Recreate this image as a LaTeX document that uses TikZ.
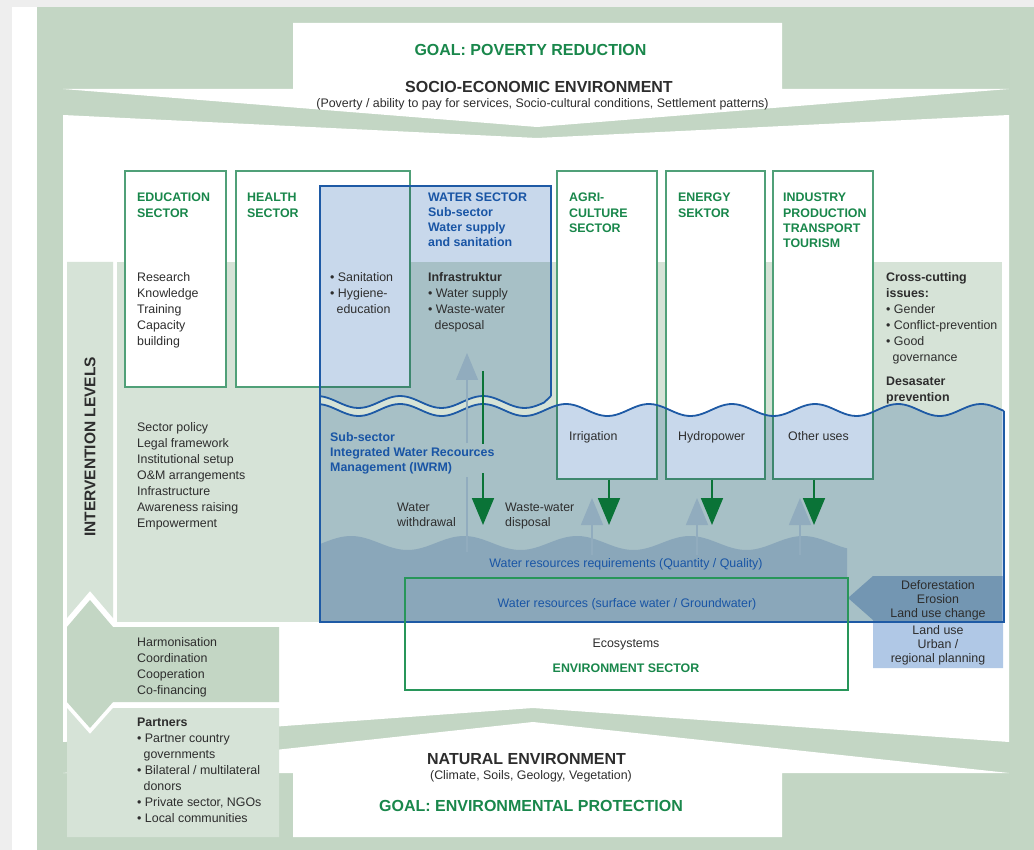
\documentclass[tikz,border=0pt]{standalone}
\usepackage{fontspec}
\setmainfont{Liberation Sans}
\usetikzlibrary{arrows.meta}

\definecolor{pagegray}{RGB}{238,238,238}
\definecolor{framegreen}{RGB}{195,214,196}
\definecolor{lightgreen}{RGB}{214,227,215}
\definecolor{lightblue}{RGB}{200,216,235}
\definecolor{deepblue}{RGB}{212,223,240}
\definecolor{landblue}{RGB}{176,200,230}
\definecolor{waterblue}{RGB}{30,90,165}
\definecolor{boxgreen}{RGB}{80,160,120}
\definecolor{envgreen}{RGB}{40,150,90}
\definecolor{textgreen}{RGB}{25,135,75}
\definecolor{textblue}{RGB}{25,85,165}
\definecolor{darktext}{RGB}{45,45,45}
\definecolor{arrowgreen}{RGB}{10,115,55}
\definecolor{arrowgray}{RGB}{145,172,190}

\begin{document}
\begin{tikzpicture}[x=1pt,y=-1pt,
   every node/.style={inner sep=0pt, text=darktext, font=\fontsize{12.4}{16}\selectfont},
   txt/.style={anchor=north west, align=left},
   sectorhead/.style={anchor=north west, align=left, text=textgreen, font=\bfseries\fontsize{12.4}{15.3}\selectfont},
   waterhead/.style={sectorhead, text=textblue, font=\bfseries\fontsize{12.4}{15}\selectfont},
   title/.style={font=\bfseries\fontsize{16}{19}\selectfont},
   sectorbox/.style={draw=boxgreen, line width=1.2pt, fill=white},
   waterline/.style={draw=waterblue, line width=1.8pt},
   supplyflow/.style={draw=arrowgreen, line width=1.8pt, -{Triangle[width=22pt,length=27pt]}},
   useflow/.style={draw=arrowgray, line width=1.6pt, -{Triangle[width=22pt,length=27pt]}}]

   \useasboundingbox (0,0) rectangle (1034,850);
   \fill[pagegray] (0,0) rectangle (1034,850);
   \fill[white] (12,7) rectangle (1034,850);
   \fill[framegreen] (37,7) rectangle (1034,850);

   % the three white layers
   \fill[white] (293,23) -- (782,23) -- (782,89) -- (1009,89) -- (537,127) -- (63,89) -- (293,89) -- cycle;
   \fill[white] (63,115) -- (537,138) -- (1009,115) -- (1009,742) -- (533,708) -- (63,742) -- cycle;
   \fill[white] (293,837) -- (782,837) -- (782,773) -- (1009,773) -- (533,722) -- (63,773) -- (293,773) -- cycle;

   % intervention levels
   \fill[lightgreen] (67,262) -- (113,262) -- (113,618) -- (90,591) -- (67,618) -- cycle;
   \fill[lightgreen] (117,262) rectangle (1002,622);
   \fill[framegreen] (67,627) -- (90,600) -- (113,627) -- (279,627) -- (279,702) -- (113,702) -- (90,728) -- (67,702) -- cycle;
   \fill[lightgreen] (67,708) -- (90,734) -- (113,708) -- (279,708) -- (279,837) -- (67,837) -- cycle;

   \node[sectorbox, minimum width=101, minimum height=216] (edu) at (175.5,279) {};
   \node[sectorbox, minimum width=174, minimum height=216] (health) at (323,279) {};
   \node[sectorbox, minimum width=100, minimum height=308] (agri) at (607,325) {};
   \node[sectorbox, minimum width=99, minimum height=308] (energy) at (715.5,325) {};
   \node[sectorbox, minimum width=100, minimum height=308] (industry) at (823,325) {};

   \begin{scope}[blend mode=multiply]
   \fill[lightblue] (320,186) -- (551,186) -- (551,396) -- plot[domain=544:320, samples=60] (\x,{402-6*cos((\x-400)/83*360)}) -- cycle;
   \fill[lightblue] plot[domain=320:1004, samples=200] (\x,{410-6*cos((\x-400)/83*360)}) -- (1004,622) -- (320,622) -- cycle;
   \fill[deepblue] plot[domain=320:847, samples=150] (\x,{543-7*cos((\x-464)/113*360)}) -- (847,622) -- (320,622) -- cycle;
   \fill[landblue] (848,598) -- (873,576) -- (1003,576) -- (1003,668) -- (873,668) -- (873,620) -- cycle;
   \end{scope}

   \draw[waterline] (551,396) -- (551,186) -- (320,186) -- (320,622) -- (1004,622) -- (1004,411);
   \draw[waterline] (551,396) -- plot[domain=544:320, samples=60] (\x,{402-6*cos((\x-400)/83*360)});
   \draw[waterline] plot[domain=320:1004, samples=200] (\x,{410-6*cos((\x-400)/83*360)});

   \node[draw=envgreen, line width=1.4pt, minimum width=443, minimum height=112] (env) at (626.5,634) {};

   % flows
   \foreach \bx/\ax/\gx in {agri/609/592, energy/712/697, industry/814/800} {
      \coordinate (tip-\bx) at (\ax,525);
      \draw[useflow] (\gx,555) -- (\gx,498);
      \draw[supplyflow] (tip-\bx |- \bx.south) -- (tip-\bx);
   }
   \draw[draw=arrowgray, line width=1.6pt] (467,552) -- (467,477);
   \draw[useflow] (467,443) -- (467,353);
   \draw[draw=arrowgreen, line width=1.8pt] (483,371) -- (483,444);
   \draw[supplyflow] (483,473) -- (483,525);

   % titles
   \node[title, text=textgreen] (goalpov) at (530.5,50) {GOAL: POVERTY REDUCTION};
   \node[title] (socio) at (539,87) {SOCIO-ECONOMIC ENVIRONMENT};
   \node (sociosub) at (542.5,104.5) {(Poverty / ability to pay for services, Socio-cultural conditions, Settlement patterns)};
   \node[title] (natural) at (526.5,759) {NATURAL ENVIRONMENT};
   \node (naturalsub) at (531,776.5) {(Climate, Soils, Geology, Vegetation)};
   \node[title, text=textgreen] (goalenv) at (531,806) {GOAL: ENVIRONMENTAL PROTECTION};
   \node[rotate=90, font=\bfseries\fontsize{15.5}{18}\selectfont] (levels) at (90,447) {INTERVENTION LEVELS};

   % sector headings
   \node[sectorhead] (eduhead) at (137,193) {EDUCATION\\SECTOR};
   \node[sectorhead] (healthhead) at (247,193) {HEALTH\\SECTOR};
   \node[waterhead] (waterhead) at (428,193) {WATER SECTOR\\Sub-sector\\Water supply\\and sanitation};
   \node[sectorhead] (agrihead) at (569,193) {AGRI-\\CULTURE\\SECTOR};
   \node[sectorhead] (energyhead) at (678,193) {ENERGY\\SEKTOR};
   \node[sectorhead] (industryhead) at (783,193) {INDUSTRY\\PRODUCTION\\TRANSPORT\\TOURISM};

   % contents
   \node[txt] (research) at (137,272) {Research\\Knowledge\\Training\\Capacity\\building};
   \node[txt] (hygiene) at (330,272) {• Sanitation\\• Hygiene-\\\hspace*{6.5pt}education};
   \node[txt] (infra) at (428,272) {\textbf{Infrastruktur}\\• Water supply\\• Waste-water\\\hspace*{6.5pt}desposal};
   \node[txt] (crosscut) at (886,272) {\textbf{Cross-cutting}\\\textbf{issues:}\\• Gender\\• Conflict-prevention\\• Good\\\hspace*{6.5pt}governance\\[8pt]\textbf{Desasater}\\\textbf{prevention}};
   \node[txt] (policy) at (137,422) {Sector policy\\Legal framework\\Institutional setup\\O\&M arrangements\\Infrastructure\\Awareness raising\\Empowerment};
   \node[waterhead] (iwrm) at (330,432) {Sub-sector\\Integrated Water Recources\\Management (IWRM)};
   \node[txt] (irrigation) at (569,431) {Irrigation};
   \node[txt] (hydro) at (678,431) {Hydropower};
   \node[txt] (otheruses) at (788,431) {Other uses};
   \node[txt, font=\fontsize{12.4}{14.5}\selectfont] (withdrawal) at (397,503) {Water\\withdrawal};
   \node[txt, font=\fontsize{12.4}{14.5}\selectfont] (disposal) at (505,503) {Waste-water\\disposal};
   \node[text=textblue] (requirements) at (626,564) {Water resources requirements (Quantity / Quality)};
   \node[text=textblue] (resources) at (627,604) {Water resources (surface water / Groundwater)};
   \node (ecosystems) at (626,645) {Ecosystems};
   \node[text=textgreen, font=\bfseries\fontsize{12.4}{15}\selectfont] (envhead) at (626,668) {ENVIRONMENT SECTOR};
   \node[anchor=north, align=center, font=\fontsize{12.4}{14}\selectfont] (deforest) at (938,580) {Deforestation\\Erosion\\Land use change};
   \node[anchor=north, align=center, font=\fontsize{12.4}{14}\selectfont] (landuse) at (938,625) {Land use\\Urban /\\regional planning};
   \node[txt] (harmon) at (137,637) {Harmonisation\\Coordination\\Cooperation\\Co-financing};
   \node[txt] (partners) at (137,718) {\textbf{Partners}\\• Partner country\\\hspace*{6.5pt}governments\\• Bilateral / multilateral\\\hspace*{6.5pt}donors\\• Private sector, NGOs\\• Local communities};

\end{tikzpicture}
\end{document}
